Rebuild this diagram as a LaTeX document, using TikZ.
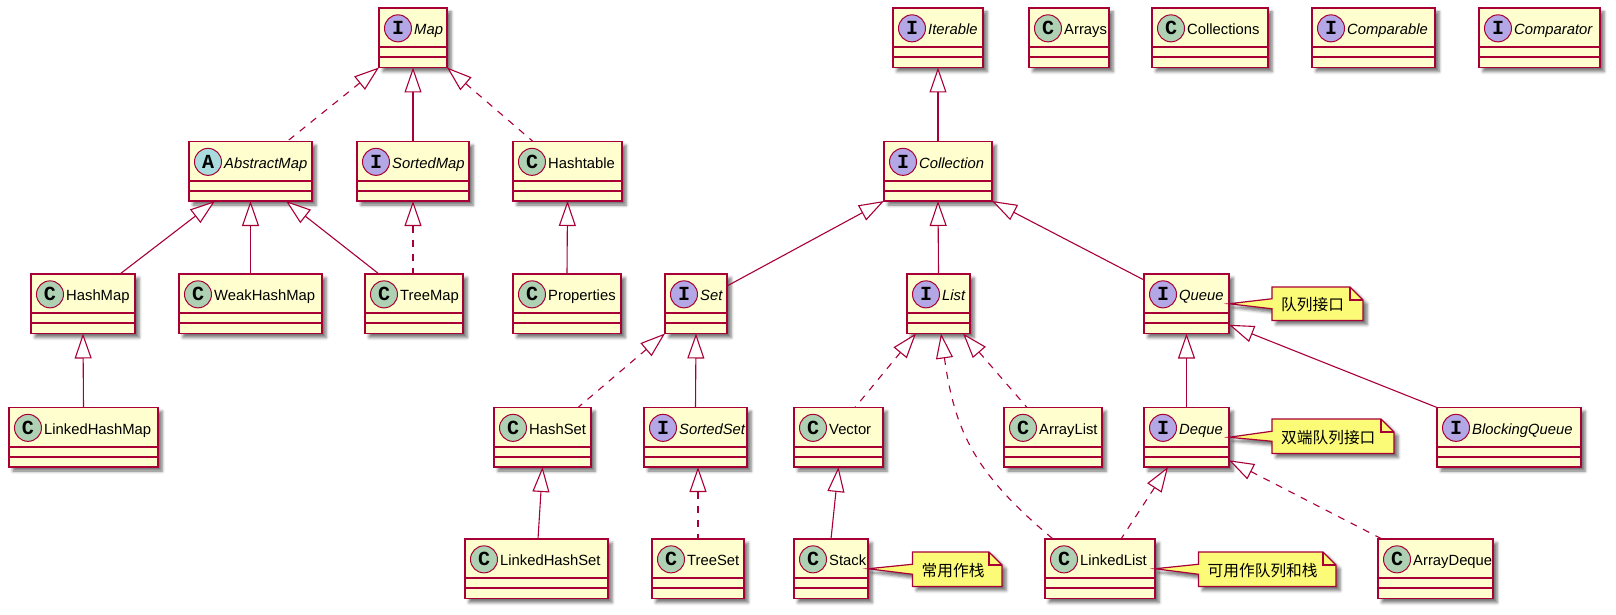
\documentclass[tikz,border=0pt]{standalone}
\usepackage{fontspec}
\setmainfont{Liberation Sans}
\newfontfamily\markfont{Liberation Mono}
\newfontfamily\cjk{Noto Sans CJK SC}
\usetikzlibrary{arrows.meta,shadows.blur}
\definecolor{umlrose}{HTML}{A80036}
\definecolor{umlbox}{HTML}{FEFECE}
\definecolor{umlnote}{HTML}{FBFB77}
\definecolor{markI}{HTML}{B4A7E5}
\definecolor{markC}{HTML}{ADD1B2}
\definecolor{markA}{HTML}{A9DCDF}
\tikzset{
  umlshadow/.style={blur shadow={shadow xshift=4pt,shadow yshift=-4pt,shadow blur radius=3pt,shadow opacity=55}},
  classbox/.style={draw=umlrose,fill=umlbox,line width=1.7pt,inner sep=0,outer sep=0,minimum height=59.5pt,umlshadow},
  classrule/.style={draw=umlrose,line width=1.7pt},
  classmark/.style={circle,draw=umlrose,line width=1pt,minimum size=27pt,inner sep=0,font=\markfont\bfseries\fontsize{20}{20}\selectfont},
  classname/.style={anchor=base west,inner sep=0,font=\fontsize{14.8}{18}\selectfont},
  extends/.style={draw=umlrose,line width=1.1pt,{Triangle[length=25pt,width=17pt,fill=white]}-},
  realizes/.style={extends,dash pattern=on 7pt off 7pt},
  notebox/.style={draw=umlrose,fill=umlnote,line width=1.2pt,umlshadow,line join=miter},
  notetext/.style={anchor=west,inner sep=0,font=\cjk\fontsize{15.7}{18}\selectfont},
}
% #1 name, #2 left, #3 right, #4 top, #5 letter, #6 label
\newcommand{\umlclass}[6]{
  \node[classbox,minimum width={(#3-#2)*1pt}] (#1) at ({(#2+#3)/2},{#4+29.75}) {};
  \draw[classrule] ([yshift=-9.5]#1.west) -- ([yshift=-9.5]#1.east);
  \draw[classrule] ([yshift=-19.5]#1.west) -- ([yshift=-19.5]#1.east);
  \node[classmark,fill=mark#5] (#1Mark) at ([xshift=19,yshift=9.4]#1.west) {#5};
  \node[classname] (#1Name) at ([xshift=35,yshift=3]#1.west) {#6};
}
% #1 name, #2 source, #3 left, #4 right, #5 top, #6 bottom, #7 text
\newcommand{\umlnote}[7]{
  \node[inner sep=0,outer sep=0,minimum width={(#4-#3)*1pt},minimum height={(#6-#5)*1pt}] (#1) at ({(#3+#4)/2},{(#5+#6)/2}) {};
  \draw[notebox] (#1.north west) -- ([xshift=-13]#1.north east) -- ([yshift=-13]#1.north east) -- (#1.south east) -- (#1.south west) -- ([yshift=-5]#1.west) -- (#2.east) -- ([yshift=5]#1.west) -- cycle;
  \draw[draw=umlrose,line width=1.2pt] ([xshift=-13]#1.north east) -- ([xshift=-13,yshift=-13]#1.north east) -- ([yshift=-13]#1.north east);
  \node[notetext] (#1Text) at ([xshift=9,yshift=-1]#1.west) {#7};
}
\begin{document}
\begin{tikzpicture}[x=1pt,y=-1pt]
\useasboundingbox (0,0) rectangle (1616,615);
\umlclass{Map}{379}{447}{8}{I}{\textit{Map}}
\umlclass{AbstractMap}{189}{312}{141.5}{A}{\textit{AbstractMap}}
\umlclass{SortedMap}{357}{469}{141.5}{I}{\textit{SortedMap}}
\umlclass{Hashtable}{513}{622}{141.5}{C}{Hashtable}
\umlclass{HashMap}{31}{135}{274}{C}{HashMap}
\umlclass{WeakHashMap}{179}{322}{274}{C}{WeakHashMap}
\umlclass{TreeMap}{365}{463}{274}{C}{TreeMap}
\umlclass{Properties}{513}{621}{274}{C}{Properties}
\umlclass{LinkedHashMap}{9}{158}{407.5}{C}{LinkedHashMap}
\umlclass{Iterable}{893}{983}{8}{I}{\textit{Iterable}}
\umlclass{Arrays}{1029}{1109}{8}{C}{Arrays}
\umlclass{Collections}{1152}{1268}{8}{C}{Collections}
\umlclass{Comparable}{1312}{1435}{8}{I}{\textit{Comparable}}
\umlclass{Comparator}{1479}{1600}{8}{I}{\textit{Comparator}}
\umlclass{Collection}{884}{992}{141.5}{I}{\textit{Collection}}
\umlclass{Set}{665}{727}{274}{I}{\textit{Set}}
\umlclass{List}{907}{970}{274}{I}{\textit{List}}
\umlclass{Queue}{1144}{1229}{274}{I}{\textit{Queue}}
\umlclass{HashSet}{494}{591}{407.5}{C}{HashSet}
\umlclass{SortedSet}{644}{747}{407.5}{I}{\textit{SortedSet}}
\umlclass{Vector}{794}{883}{407.5}{C}{Vector}
\umlclass{ArrayList}{1004}{1102}{407.5}{C}{ArrayList}
\umlclass{Deque}{1144}{1229}{407.5}{I}{\textit{Deque}}
\umlclass{BlockingQueue}{1437}{1581}{407.5}{I}{\textit{BlockingQueue}}
\umlclass{LinkedHashSet}{465}{608}{539}{C}{LinkedHashSet}
\umlclass{TreeSet}{652}{744}{539}{C}{TreeSet}
\umlclass{Stack}{794}{868}{539}{C}{Stack}
\umlclass{LinkedList}{1045}{1155}{539}{C}{LinkedList}
\umlclass{ArrayDeque}{1378}{1493}{539}{C}{ArrayDeque}
\draw[realizes] (Map.south west) -- ([xshift=36.5]AbstractMap.north);
\draw[extends] (Map.south) -- (SortedMap.north);
\draw[realizes] (Map.south east) -- ([xshift=-34.5]Hashtable.north);
\draw[extends] ([xshift=-35.5]AbstractMap.south) -- ([xshift=37]HashMap.north);
\draw[extends] (AbstractMap.south) -- (WeakHashMap.north);
\draw[extends] ([xshift=35.5]AbstractMap.south) -- ([xshift=-35]TreeMap.north);
\draw[realizes] (SortedMap.south) -- ([xshift=-1]TreeMap.north);
\draw[extends] (Hashtable.south) -- (Properties.north);
\draw[extends] (HashMap.south) -- (LinkedHashMap.north);
\draw[extends] (Iterable.south) -- (Collection.north);
\draw[extends] (Collection.south west) -- ([yshift=-12]Set.north east);
\draw[extends] (Collection.south) -- (List.north);
\draw[extends] (Collection.south east) -- ([yshift=-6]Queue.north west);
\draw[realizes] (Set.south west) -- ([xshift=35.5]HashSet.north);
\draw[extends] (Set.south) -- (SortedSet.north);
\draw[extends] (HashSet.south) -- ([xshift=1.5]LinkedHashSet.north);
\draw[realizes] ([xshift=2.5]SortedSet.south) -- (TreeSet.north);
\draw[realizes] ([xshift=-22.5]List.south) -- ([xshift=16.5]Vector.north);
\draw[realizes] ([xshift=2.5]List.south) to[out=-82,in=140,looseness=1.1] ([xshift=-47]LinkedList.north);
\draw[realizes] ([xshift=24.5]List.south) -- ([xshift=-26]ArrayList.north);
\draw[extends] (Vector.south) -- (Stack.north);
\draw[extends] (Queue.south) -- (Deque.north);
\draw[extends] ([yshift=-21]Queue.east) -- (BlockingQueue.north west);
\draw[realizes] ([xshift=-18.5]Deque.south) -- ([xshift=21]LinkedList.north);
\draw[realizes] ([yshift=-23]Deque.east) -- ([xshift=-53.5]ArrayDeque.north);
\umlnote{QueueNote}{Queue}{1272}{1363}{287}{320.5}{队列接口}
\umlnote{DequeNote}{Deque}{1272}{1394}{419}{453.5}{双端队列接口}
\umlnote{StackNote}{Stack}{912.5}{1002}{552}{586.5}{常用作栈}
\umlnote{LinkedListNote}{LinkedList}{1198.5}{1336}{552}{586.5}{可用作队列和栈}
\end{tikzpicture}
\end{document}
